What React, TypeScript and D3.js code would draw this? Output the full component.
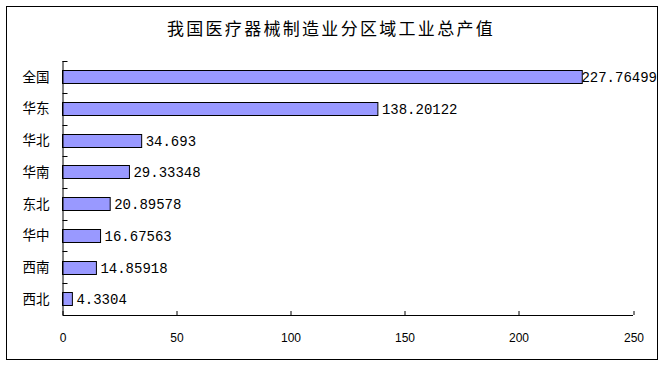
import React from "react";
import * as d3 from "d3";

// categories, top to bottom
const regions = ["全国", "华东", "华北", "华南", "东北", "华中", "西南", "西北"];
const outputValues = [227.76499, 138.20122, 34.693, 29.33348, 20.89578, 16.67563, 14.85918, 4.3304];
const xTicks = [0, 50, 100, 150, 200, 250];

const title = "我国医疗器械制造业分区域工业总产值";

export default function App() {
  const width = 666;
  const height = 367;
  const margin = { top: 61, right: 33, bottom: 52, left: 62.5 };
  const innerWidth = width - margin.left - margin.right;
  const innerHeight = height - margin.top - margin.bottom;

  const xScale = d3.scaleLinear().domain([0, 250]).range([0, innerWidth]);
  const yScale = d3.scaleBand().domain(regions).range([0, innerHeight]).paddingInner(0.58).paddingOuter(0.29);

  const cjk = "'Noto Sans CJK SC', sans-serif";
  const mono = "'Liberation Mono', monospace";
  const charW = 8.4;

  return (
    <div style={{ position: "absolute", left: 0, top: 0 }}>
      <svg width={width} height={height} style={{ display: "block", background: "#fff" }}>
        {/* outer frame */}
        <rect x={6.5} y={6.5} width={651} height={353} fill="none" stroke="#000" strokeWidth={1} />

        <text x={331} y={35} textAnchor="middle" fontFamily={cjk} fontSize={17} letterSpacing={2.3} fill="#000">
          {title}
        </text>

        <g transform={`translate(${margin.left},${margin.top})`}>
          {/* bars */}
          {regions.map((r, i) => {
            const y = yScale(r)!;
            const w = xScale(outputValues[i]);
            const label = String(outputValues[i]);
            const labelW = label.length * charW;
            const lx = Math.min(w + 4, width - 9 - margin.left - labelW);
            return (
              <g key={r}>
                <rect x={0} y={Math.round(y) + 0.5} width={w} height={Math.round(yScale.bandwidth())} fill="#9999ff" stroke="#000" strokeWidth={1} />
                <text x={lx} y={y + yScale.bandwidth() / 2} dy="0.38em" fontFamily={mono} fontSize={14} fill="#000">
                  {label}
                </text>
                <text x={-13} y={y + yScale.bandwidth() / 2} dy="0.36em" textAnchor="end" fontFamily={cjk} fontSize={13.5} fill="#000">
                  {r}
                </text>
              </g>
            );
          })}

          {/* y axis with inward ticks at band edges */}
          <line x1={0.5} x2={0.5} y1={0} y2={innerHeight} stroke="#000" />
          {regions.map((r) => (
            <line key={r} x1={0} x2={5} y1={Math.round(yScale(r)! - yScale.step() * 0.29) + 0.5} y2={Math.round(yScale(r)! - yScale.step() * 0.29) + 0.5} stroke="#000" />
          ))}

          {/* x axis */}
          <line x1={0} x2={innerWidth} y1={innerHeight + 0.5} y2={innerHeight + 0.5} stroke="#000" />
          {xTicks.map((t) => (
            <g key={t} transform={`translate(${Math.round(xScale(t)) + 0.5},0)`}>
              <line y1={innerHeight} y2={innerHeight - 4} stroke="#000" />
              <text y={innerHeight + 23} dy="0.36em" textAnchor="middle" fontFamily="'Liberation Sans', Arial, sans-serif" fontSize={12} fill="#000">
                {t}
              </text>
            </g>
          ))}
        </g>
      </svg>
    </div>
  );
}
